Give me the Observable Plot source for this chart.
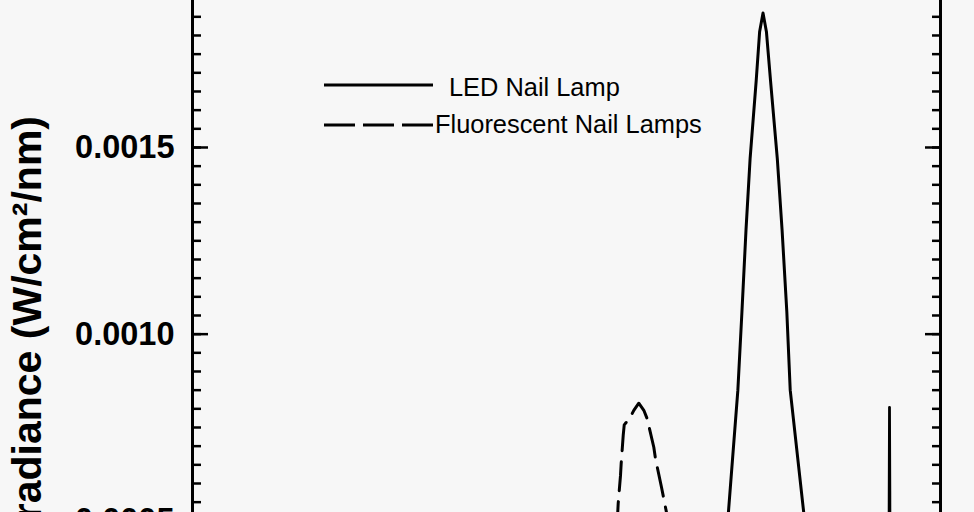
<!DOCTYPE html>
<html><head><meta charset="utf-8">
<script src="https://cdn.jsdelivr.net/npm/d3@7"></script>
<script src="https://cdn.jsdelivr.net/npm/@observablehq/plot@0.6"></script>
<style>
html,body{margin:0;padding:0;height:512px;overflow:hidden;background:#f7f7f7;}
#chart{position:relative;width:974px;}
</style></head><body><div id="chart"></div>
<script>
// LED nail lamp spectrum (wavelength nm, irradiance W/cm²/nm)
const ledNm  = [300, 360, 370, 375, 377.5, 378.8, 380.2, 380.8, 381.4, 382.0, 382.9, 383.4, 383.9, 384.4, 385.0, 386.0, 386.7, 387.4, 387.9, 389.9, 392, 395, 400, 410];
const ledIrr = [0, 0.00001, 0.00004, 0.00015, 0.00033, 0.00052, 0.00085, 0.00106, 0.00128, 0.00147, 0.00168, 0.00181, 0.00186, 0.00181, 0.00168, 0.00147, 0.00128, 0.00106, 0.00085, 0.00052, 0.00028, 0.00010, 0.00003, 0.00001];
// Fluorescent nail lamps spectrum
const fluoNm  = [300, 350, 360, 361.5, 362.2, 362.6, 362.94, 363.04, 363.34, 363.49, 364.41, 364.9, 365.63, 366.37, 366.87, 367.84, 368.09, 368.97, 369.31, 369.71, 371, 373, 376, 385, 400, 402.2];
const fluoIrr = [0.00001, 0.00002, 0.00008, 0.0002, 0.0004, 0.000546, 0.000621, 0.000653, 0.000729, 0.000757, 0.000778, 0.000796, 0.000815, 0.000796, 0.000773, 0.000697, 0.000666, 0.00059, 0.000559, 0.000522, 0.0004, 0.00025, 0.00012, 0.00004, 0.00002, 0.00002];
// narrow mercury line of the fluorescent lamps (drawn solid)
const hgNm  = [402.2, 402.38, 402.45, 402.5, 402.55, 402.62, 402.8];
const hgIrr = [0.00002, 0.00003, 0.00055, 0.000804, 0.00058, 0.00003, 0.00002];

const seriesNames = ["LED Nail Lamp", "Fluorescent Nail Lamps"];
const yTickValues = [0.0005, 0.0010, 0.0015];
const yTickLabels = ["0.0005", "0.0010", "0.0015"];
const yTitle = "Irradiance (W/cm²/nm)";

const xDomain = [300, 410];
const yDomain = [0, 0.0018937];
const minorTicks = d3.range(1, 38).map(i => +(i * 0.00005).toFixed(5));

const led = ledNm.map((x, i) => ({x, y: ledIrr[i]}));
const fluo = fluoNm.map((x, i) => ({x, y: fluoIrr[i]}));
const hg = hgNm.map((x, i) => ({x, y: hgIrr[i]}));

const W = 974, H = 780, ML = 192, MR = 34;
const FW = W - ML - MR;
const font = "'Liberation Sans', Arial, Helvetica, sans-serif";

const plot = Plot.plot({
  width: W, height: H,
  marginLeft: ML, marginRight: MR, marginTop: 0, marginBottom: 73,
  x: {domain: xDomain, axis: null},
  y: {domain: yDomain, axis: null},
  style: {background: "#f7f7f7", fontFamily: font, color: "black"},
  marks: [
    Plot.tickY(minorTicks, {stroke: "black", strokeWidth: 2.5, insetRight: FW - 9}),
    Plot.tickY(yTickValues, {stroke: "black", strokeWidth: 2.5, insetRight: FW - 16}),
    Plot.tickY(minorTicks, {stroke: "black", strokeWidth: 2.5, insetLeft: FW - 8}),
    Plot.tickY(yTickValues, {stroke: "black", strokeWidth: 2.5, insetLeft: FW - 15}),
    Plot.ruleX(xDomain, {stroke: "black", strokeWidth: 3}),
    Plot.axisY(yTickValues, {
      anchor: "left", tickSize: 0, tickPadding: 18, label: null,
      tickFormat: d => yTickLabels[yTickValues.indexOf(d)],
      fontSize: 32.5, fontWeight: "bold", fill: "black"
    }),
    Plot.line(led, {x: "x", y: "y", stroke: "black", strokeWidth: 3}),
    Plot.line(fluo, {x: "x", y: "y", stroke: "black", strokeWidth: 3, strokeDasharray: "29,11"}),
    Plot.line(hg, {x: "x", y: "y", stroke: "black", strokeWidth: 2.8})
  ]
});

const svg = d3.select(plot);
// y-axis title
svg.append("text")
  .attr("transform", "translate(41,116) rotate(-90)")
  .attr("text-anchor", "end")
  .style("font-family", font).style("font-size", "41px").style("font-weight", "bold")
  .attr("fill", "black")
  .text(yTitle);

// legend
const lg = svg.append("g").attr("text-anchor", "start");
lg.append("line").attr("x1", 324).attr("x2", 433).attr("y1", 85).attr("y2", 85)
  .attr("stroke", "black").attr("stroke-width", 3);
lg.append("line").attr("x1", 324).attr("x2", 433).attr("y1", 125).attr("y2", 125)
  .attr("stroke", "black").attr("stroke-width", 3).attr("stroke-dasharray", "31,8");
lg.append("text").attr("x", 449).attr("y", 96).attr("text-anchor", "start")
  .style("font-family", font).style("font-size", "25.4px").attr("fill", "black")
  .text(seriesNames[0]);
lg.append("text").attr("x", 435).attr("y", 133).attr("text-anchor", "start")
  .style("font-family", font).style("font-size", "25.4px").attr("fill", "black")
  .text(seriesNames[1]);

document.getElementById("chart").append(plot);
</script>
</body></html>
